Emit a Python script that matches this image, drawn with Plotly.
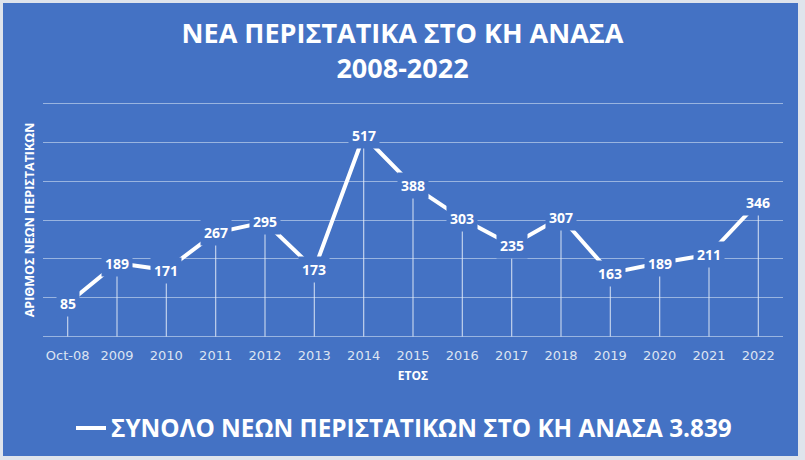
import plotly.graph_objects as go

categories = ["Oct-08", "2009", "2010", "2011", "2012", "2013", "2014", "2015",
              "2016", "2017", "2018", "2019", "2020", "2021", "2022"]
cases = [85, 189, 171, 267, 295, 173, 517, 388, 303, 235, 307, 163, 189, 211, 346]
series_name = "ΣΥΝΟΛΟ ΝΕΩΝ ΠΕΡΙΣΤΑΤΙΚΩΝ ΣΤΟ ΚΗ ΑΝΑΣΑ 3.839"
title_text = "ΝΕΑ ΠΕΡΙΣΤΑΤΙΚΑ ΣΤΟ ΚΗ ΑΝΑΣΑ<br>2008-2022"
x_title = "ΕΤΟΣ"
y_title = "ΑΡΙΘΜΟΣ ΝΕΩΝ ΠΕΡΙΣΤΑΤΙΚΩΝ"

BLUE = "#4472C4"
W, H = 805, 460
L, R, T, B = 43, 22, 101.5, 121.5
pw, ph = W - L - R, H - T - B

def px_x(p):
    return (p - L) / pw

def px_y(p):
    return (H - B - p) / ph

fig = go.Figure()

# drop lines
fig.add_trace(go.Scatter(
    x=categories, y=cases, mode="markers",
    marker=dict(size=0.1, color="rgba(0,0,0,0)"),
    error_y=dict(type="data", symmetric=False, array=[0] * len(cases),
                 arrayminus=cases, width=0, thickness=1.2,
                 color="rgba(235,240,250,0.75)"),
    showlegend=False, hoverinfo="skip"))

fig.add_trace(go.Scatter(
    x=categories, y=cases, mode="lines", name=series_name,
    line=dict(color="white", width=4)))

for i, v in enumerate(cases):
    fig.add_annotation(x=i, y=v, xref="x", yref="y", text=str(v), showarrow=False,
                       bgcolor=BLUE, borderpad=3,
                       font=dict(family="Open Sans", size=14, color="white", weight="bold"))

# outer frame
fig.add_shape(type="rect", xref="paper", yref="paper",
              x0=px_x(3), x1=px_x(798), y0=px_y(457), y1=px_y(2),
              fillcolor=BLUE, line=dict(width=0), layer="below")

fig.update_layout(
    width=W, height=H,
    margin=dict(l=L, r=R, t=T, b=B, autoexpand=False),
    paper_bgcolor="#dfe4ec",
    plot_bgcolor="rgba(0,0,0,0)",
    title=dict(text=title_text, x=0.5, xanchor="center", y=(H - 43) / H,
               yanchor="middle",
               font=dict(family="Open Sans", size=27, color="white", weight="bold")),
    xaxis=dict(type="category", range=[-0.5, len(categories) - 0.5],
               showgrid=False, zeroline=False, showline=False,
               ticks="", ticklabelstandoff=8,
               tickfont=dict(family="DejaVu Sans", size=13, color="#dce4f2"),
               title=dict(text=x_title, standoff=9,
                          font=dict(family="Open Sans", size=12, color="white", weight="bold"))),
    yaxis=dict(range=[-4, 604], tick0=0, dtick=100, showticklabels=False, ticks="",
               showgrid=True, gridcolor="rgba(200,215,240,0.65)", gridwidth=1.3,
               zeroline=False, showline=False,
               title=dict(text=y_title, standoff=4,
                          font=dict(family="Open Sans", size=12.5, color="white", weight="bold"))),
    legend=dict(orientation="h", x=px_x(404), xanchor="center", y=px_y(429), yanchor="middle",
                bgcolor="rgba(0,0,0,0)",
                font=dict(family="Open Sans", size=24.3, color="white", weight="bold")),
    showlegend=True,
)

fig.write_html("out.html", config={"displayModeBar": False},
               post_script="document.body.style.margin='0';")
